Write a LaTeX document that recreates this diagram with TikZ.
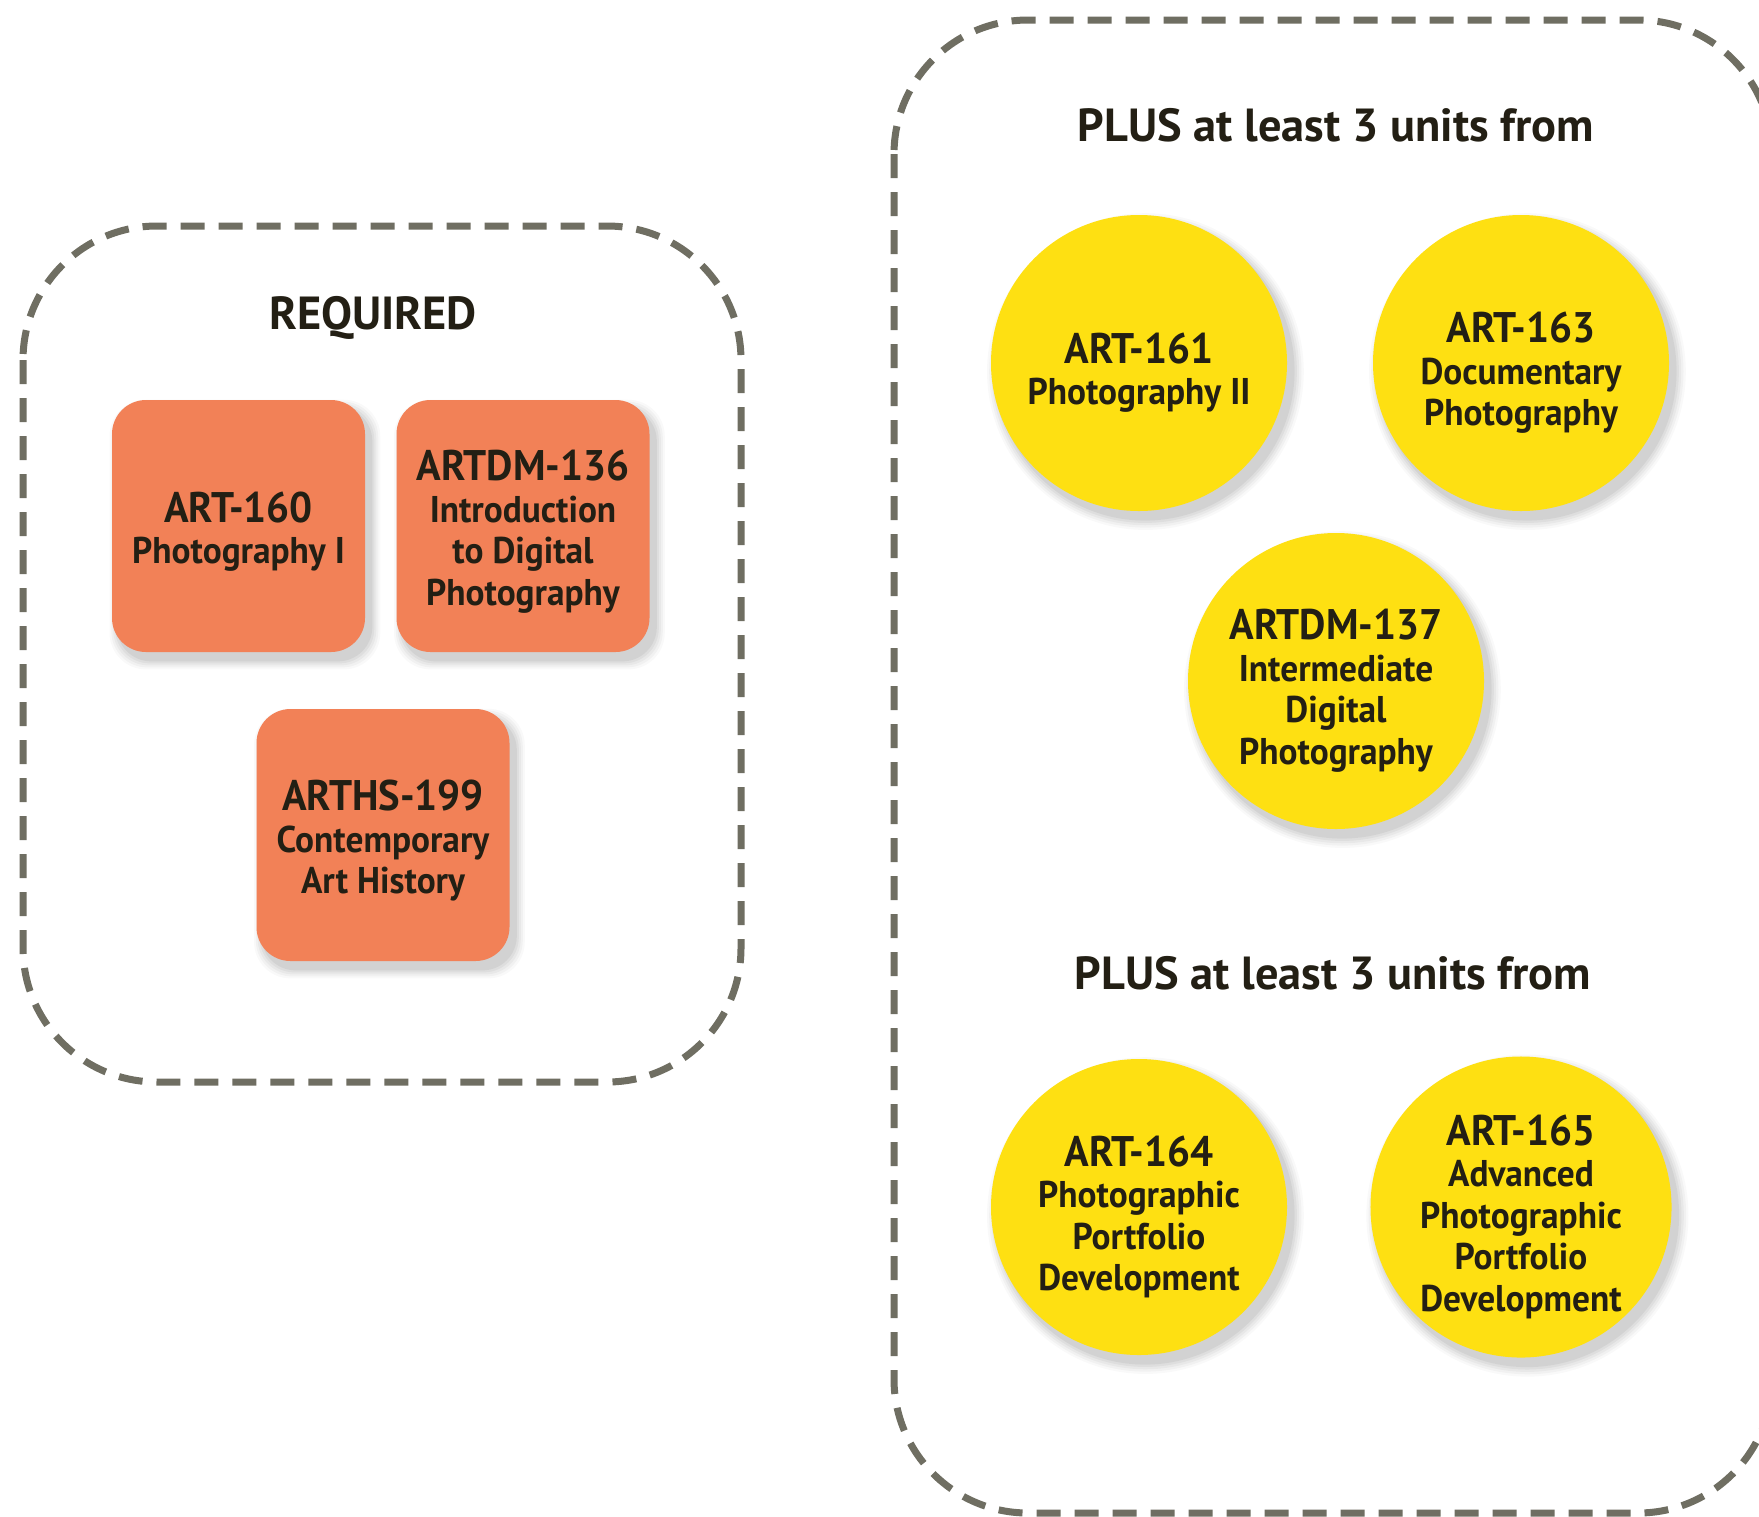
\documentclass[tikz,border=0pt]{standalone}
\usepackage{fontspec}
\setmainfont{PT Sans}
\newfontfamily\crsfamily{PT Sans}[FakeStretch=0.95]
\usetikzlibrary{shadows}
\definecolor{dashgray}{RGB}{111,110,98}
\definecolor{boxorange}{RGB}{242,129,87}
\definecolor{circyellow}{RGB}{254,224,18}
\definecolor{txtdark}{RGB}{35,31,20}
\newcommand{\crsSub}{\crsfamily\bfseries\fontsize{18.6}{20.75}\selectfont}
\newcommand{\crsTitle}{\fontsize{21.4}{20.75}\selectfont}
\newcommand{\crsHead}{\bfseries\fontsize{23.2}{26}\selectfont}
\newcommand{\rtitle}[1]{\rule{0pt}{21pt}{\crsTitle #1}}
\newcommand{\ctitle}[1]{\rule{0pt}{25pt}{\crsTitle #1}}
\tikzset{
  grouprect/.style={draw=dashgray, line width=3.5pt, dash pattern=on 12pt off 7pt, rounded corners=67pt},
  softshadow/.style={
    drop shadow={shadow xshift=3pt, shadow yshift=-4pt, shadow scale=1.07, opacity=0.025, fill=black},
    drop shadow={shadow xshift=3pt, shadow yshift=-4pt, shadow scale=1.055, opacity=0.03, fill=black},
    drop shadow={shadow xshift=3pt, shadow yshift=-4pt, shadow scale=1.04, opacity=0.035, fill=black},
    drop shadow={shadow xshift=3pt, shadow yshift=-4pt, shadow scale=1.025, opacity=0.04, fill=black},
    drop shadow={shadow xshift=3pt, shadow yshift=-4pt, shadow scale=1.01, opacity=0.05, fill=black}},
  reqbox/.style={rectangle, rounded corners=17pt, fill=boxorange, minimum width=126.5pt, minimum height=126pt,
    inner sep=2pt, align=center, text=txtdark, font=\crsSub, softshadow},
  optcirc/.style={circle, fill=circyellow, minimum size=148pt, inner sep=0pt, align=center,
    text=txtdark, font=\crsSub, softshadow},
  header/.style={text=txtdark, font=\crsHead, inner sep=0pt},
}
\begin{document}
\begin{tikzpicture}[x=0.5pt,y=-0.5pt]
\clip (0,0) rectangle (1759,1516);
\fill[white] (0,0) rectangle (1759,1516);
% group frames
\draw[grouprect] (23,226) rectangle (741,1082);
\draw[grouprect] (894,20) rectangle (1772,1513);
% headers
\node[header] (hreq) at (373,318) {REQUIRED};
\node[header] (hplus1) at (1336,125) {PLUS at least 3 units from};
\node[header] (hplus2) at (1333,973) {PLUS at least 3 units from};
% required courses
\node[reqbox] (art160) at (238.5,526) {\rtitle{ART-160}\\Photography I};
\node[reqbox] (artdm136) at (523,526) {\rtitle{ARTDM-136}\\Introduction\\to Digital\\Photography};
\node[reqbox] (arths199) at (383,835) {\rtitle{ARTHS-199}\\Contemporary\\Art History};
% optional courses
\node[optcirc] (art161) at (1139,363) {\ctitle{ART-161}\\Photography II};
\node[optcirc] (art163) at (1521,363) {\ctitle{ART-163}\\Documentary\\Photography};
\node[optcirc] (artdm137) at (1336,681) {\ctitle{ARTDM-137}\\Intermediate\\Digital\\Photography};
\node[optcirc] (art164) at (1139,1207) {\ctitle{ART-164}\\Photographic\\Portfolio\\Development};
\node[optcirc] (art165) at (1521,1207) {\ctitle{ART-165}\\Advanced\\Photographic\\Portfolio\\Development};
\end{tikzpicture}
\end{document}
